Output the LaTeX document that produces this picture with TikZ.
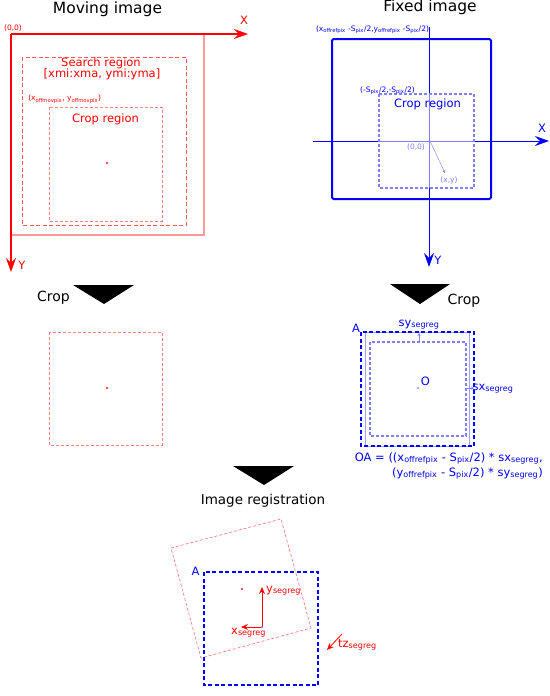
\documentclass[tikz,border=0pt]{standalone}
\usepackage{fontspec}
\setmainfont{DejaVu Sans}
\usetikzlibrary{arrows.meta}
\definecolor{lred}{HTML}{FF9A9A}
\definecolor{mred}{HTML}{FF5A5A}
\definecolor{pred}{HTML}{FF8080}
\definecolor{lblue}{HTML}{8080FF}
\definecolor{llblue}{HTML}{A0A0FF}
\newcommand\sbx[1]{\textsubscript{#1}}
\begin{document}
\begin{tikzpicture}[x=1pt,y=-1pt,
  title/.style={font=\fontsize{15.5}{18}\selectfont, inner sep=0, anchor=base},
  lbl/.style={font=\fontsize{11.5}{13}\selectfont, inner sep=0},
  small/.style={font=\fontsize{7.5}{9}\selectfont, inner sep=0},
  bigarrow/.style={-{Stealth[length=14pt,width=10pt,inset=5pt]}},
  midarrow/.style={-{Stealth[length=7pt,width=6pt,inset=2.5pt]}},
  tinyarrow/.style={-{Stealth[length=3pt,width=3pt,inset=1pt]}},
  tri/.style={fill=black, draw=none},
  dotmark/.style={circle, draw=red, line width=0.4pt, inner sep=0, minimum size=2.4pt}
]
\useasboundingbox (0,0) rectangle (549,696);

% ================= Moving image =================
\node[title] (tmov) at (107.5,13) {Moving image};
\node[small, text=red] (o00) at (13,28) {(0,0)};
\draw[lred, line width=1.2pt] (204,34) -- (204,235) -- (11,235);
\coordinate (mo) at (11,34);
\coordinate (mx) at (248,34);
\coordinate (my) at (11,272);
\draw[red, line width=1.3pt, bigarrow] (mo) -- (mx);
\draw[red, line width=1.3pt, bigarrow] (mo) -- (my);
\node[lbl, text=red] (mX) at (244,20) {X};
\node[lbl, text=red] (mY) at (22,265.5) {Y};
\draw[mred, line width=0.9pt, dash pattern=on 4pt off 2.5pt] (22,57) rectangle (186,225);
\node[lbl, text=red, anchor=base] (srch) at (101,66) {Search region};
\node[lbl, text=red, anchor=base] (srng) at (102,77) {[xmi:xma, ymi:yma]};
\node[small, text=red, anchor=base] (offm) at (64.7,100.5) {(x\sbx{offmovpix}, y\sbx{offmovpix})};
\draw[pred, line width=0.8pt, dash pattern=on 3pt off 2pt] (49,107) rectangle (162,221);
\node[lbl, text=red, anchor=base] (mcrop) at (105.5,122) {Crop region};
\node[dotmark] (mdot) at (107,163) {};

% ================= Fixed image =================
\node[title] (tfix) at (430,12) {Fixed image};
\node[small, text=blue, anchor=base] (offr) at (372.5,31) {(x\sbx{offrefpix} -S\sbx{pix}/2,y\sbx{offrefpix} -S\sbx{pix}/2)};
\draw[blue, line width=2pt, rounded corners=1.5pt] (332,39) rectangle (491,199);
\coordinate (fvt) at (429,27);
\coordinate (fvb) at (429,267);
\coordinate (fhl) at (313,141);
\coordinate (fhr) at (549,141);
\draw[blue, line width=1pt, bigarrow] (fvt) -- (fvb);
\draw[blue, line width=1pt, bigarrow] (fhl) -- (fhr);
\fill[white, fill opacity=0.5] (379,94) rectangle (474,188);
\draw[lblue, line width=1.3pt, dash pattern=on 3pt off 2pt] (379,94) rectangle (474,188);
\node[small, text=blue, anchor=base] (scorner) at (387.5,92) {(-S\sbx{pix}/2,-S\sbx{pix}/2)};
\node[lbl, text=blue, anchor=base] (fcrop) at (427.5,107) {Crop region};
\node[lbl, text=blue] (fX) at (542,128) {X};
\node[lbl, text=blue] (fY) at (438,260) {Y};
\node[small, text=lblue] (f00) at (416,147) {(0,0)};
\coordinate (forig) at (430,141);
\coordinate (fxy) at (445,173);
\draw[lblue, line width=0.4pt, tinyarrow] (forig) -- (fxy);
\node[small, text=lblue] (fxyl) at (449,180) {(x,y)};

% ================= Crop arrows =================
\node[lbl, font=\fontsize{14}{16}\selectfont, anchor=base] (cropl) at (53.5,301) {Crop};
\fill[tri] (73,285) -- (134,285) -- (104,304) -- cycle;
\fill[tri] (390,284) -- (450,284) -- (420,304) -- cycle;
\node[lbl, font=\fontsize{14}{16}\selectfont, anchor=base] (cropr) at (464,304) {Crop};

% cropped moving
\draw[pred, line width=0.8pt, dash pattern=on 3pt off 2pt] (49,332) rectangle (162,445);
\node[dotmark] (cdot) at (107,388) {};

% cropped fixed
\draw[llblue, line width=1pt] (365,332) rectangle (469,446);
\draw[lblue, line width=1.1pt, dash pattern=on 3pt off 2pt] (370,342) rectangle (466,436);
\draw[blue, line width=2.5pt, dash pattern=on 4pt off 2.5pt] (361,332) rectangle (474,446);
\node[lbl, text=blue] (cA) at (356,328) {A};
\node[lbl, text=blue, anchor=base] (sylab) at (419,326) {sy\sbx{segreg}};
\coordinate (syb) at (419,342);
\coordinate (syt) at (419,333);
\draw[lblue, line width=0.5pt, tinyarrow] (syb) -- (syt);
\coordinate (sxl) at (466,388);
\coordinate (sxr) at (474,388);
\draw[lblue, line width=0.5pt, tinyarrow] (sxl) -- (sxr);
\node[lbl, text=blue, anchor=base] (sxlab) at (493,390) {sx\sbx{segreg}};
\node[circle, draw=lblue, line width=0.4pt, inner sep=0, minimum size=2.2pt] (cO) at (418,388) {};
\node[lbl, text=blue] (Olab) at (425.5,381.5) {O};
\node[lbl, text=blue, anchor=base east] (oa1) at (543,461) {OA = ((x\sbx{offrefpix} - S\sbx{pix}/2) * sx\sbx{segreg},};
\node[lbl, text=blue, anchor=base east] (oa2) at (543,476) {(y\sbx{offrefpix} - S\sbx{pix}/2) * sy\sbx{segreg})};

% ================= Image registration =================
\fill[tri] (233,466) -- (294,466) -- (264,485) -- cycle;
\node[lbl, font=\fontsize{13.5}{16}\selectfont, anchor=base] (imreg) at (263,504) {Image registration};

\draw[pred, line width=0.7pt, dash pattern=on 3pt off 2pt] (171,548) -- (281,519) -- (311,628) -- (201,658) -- cycle;
\node[dotmark, minimum size=1.6pt, line width=0.3pt] (rdot) at (242,589) {};
\draw[blue, line width=2.5pt, dash pattern=on 4pt off 2.5pt] (204,572) rectangle (318,685);
\node[lbl, text=blue] (bA) at (195.5,571.5) {A};
\coordinate (ro) at (262,627);
\coordinate (ry) at (262,587);
\coordinate (rx) at (241,627);
\draw[red, line width=0.8pt, midarrow] (ro) -- (ry);
\draw[red, line width=0.8pt, midarrow] (ro) -- (rx);
\fill[lblue] (ro) circle (1pt);
\node[lbl, text=red, anchor=base west] (ylab) at (266,592) {y\sbx{segreg}};
\node[lbl, text=red, anchor=base west] (xlab) at (231,634) {x\sbx{segreg}};
\coordinate (tza) at (342,634);
\coordinate (tzb) at (327,650);
\draw[red, line width=0.8pt, midarrow] (tza) -- (tzb);
\node[lbl, text=red, anchor=base west] (tzlab) at (338,647) {tz\sbx{segreg}};
\end{tikzpicture}
\end{document}
